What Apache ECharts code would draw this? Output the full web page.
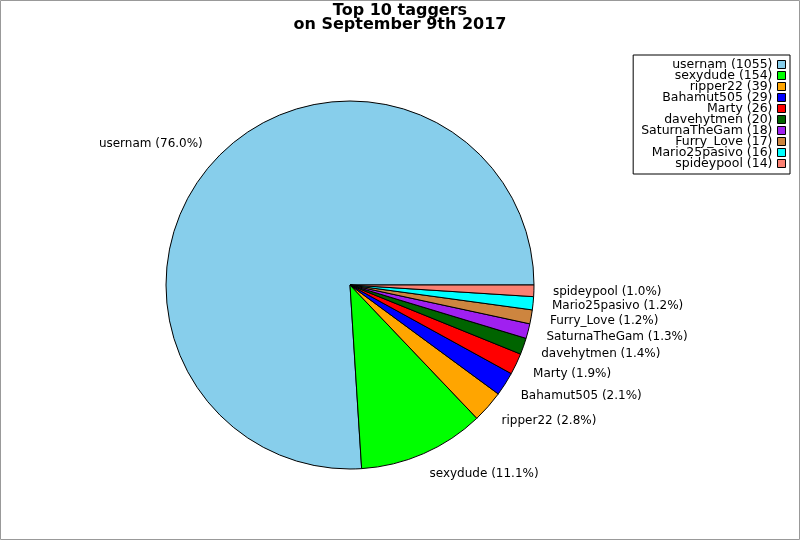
<!DOCTYPE html>
<html>
<head>
<meta charset="utf-8">
<script src="https://cdn.jsdelivr.net/npm/echarts@6/dist/echarts.min.js"></script>
<style>
  html, body { margin: 0; padding: 0; background: #fff; }
  #chart { width: 800px; height: 540px; }
</style>
</head>
<body>
<div id="chart"></div>
<script>
var names = ['usernam', 'sexydude', 'ripper22', 'Bahamut505', 'Marty', 'davehytmen', 'SaturnaTheGam', 'Furry_Love', 'Mario25pasivo', 'spideypool'];
var counts = [1055, 154, 39, 29, 26, 20, 18, 17, 16, 14];
var colors = ['#87CEEB', '#00FF00', '#FFA500', '#0000FF', '#FF0000', '#006400', '#A020F0', '#CD853F', '#00FFFF', '#FA8072'];

var total = counts.reduce(function (a, b) { return a + b; }, 0);

var chart = echarts.init(document.getElementById('chart'));

var pieData = names.map(function (n, i) {
    return { name: n, value: counts[i], itemStyle: { color: colors[i] } };
});

var option = {
    animation: false,
    textStyle: { fontFamily: 'DejaVu Sans' },
    title: {
        text: 'Top 10 taggers\non September 9th 2017',
        left: 'center',
        top: 4,
        padding: 0,
        textStyle: {
            fontFamily: 'DejaVu Sans',
            fontWeight: 'bold',
            fontSize: 16,
            lineHeight: 14,
            color: '#000'
        }
    },
    legend: {
        orient: 'vertical',
        right: 10,
        top: 55,
        align: 'right',
        padding: [3, 4, 4, 8],
        itemGap: -2,
        itemWidth: 8,
        itemHeight: 8,
        icon: 'rect',
        borderColor: '#000',
        borderWidth: 1,
        selectedMode: false,
        itemStyle: { borderColor: '#000', borderWidth: 1 },
        textStyle: { fontFamily: 'DejaVu Sans', fontSize: 12.5, color: '#000' },
        formatter: function (name) {
            return name + ' (' + counts[names.indexOf(name)] + ')';
        },
        data: names
    },
    graphic: [{
        type: 'rect',
        shape: { x: 0.5, y: 0.5, width: 799, height: 539 },
        style: { fill: 'none', stroke: '#999', lineWidth: 1 },
        silent: true
    }],
    series: [{
        type: 'pie',
        center: [350, 285],
        radius: 184,
        startAngle: 0,
        clockwise: false,
        avoidLabelOverlap: false,
        minShowLabelAngle: 0,
        itemStyle: { borderColor: '#000', borderWidth: 1 },
        emphasis: { disabled: true },
        label: {
            show: true,
            position: 'outside',
            distanceToLabelLine: -3,
            fontFamily: 'DejaVu Sans',
            fontSize: 12,
            color: '#000',
            formatter: function (p) {
                return p.name + ' (' + (p.value / total * 100).toFixed(1) + '%)';
            }
        },
        labelLine: { show: false, length: 22, length2: 0 },
        data: pieData
    }]
};

chart.setOption(option);
</script>
</body>
</html>
